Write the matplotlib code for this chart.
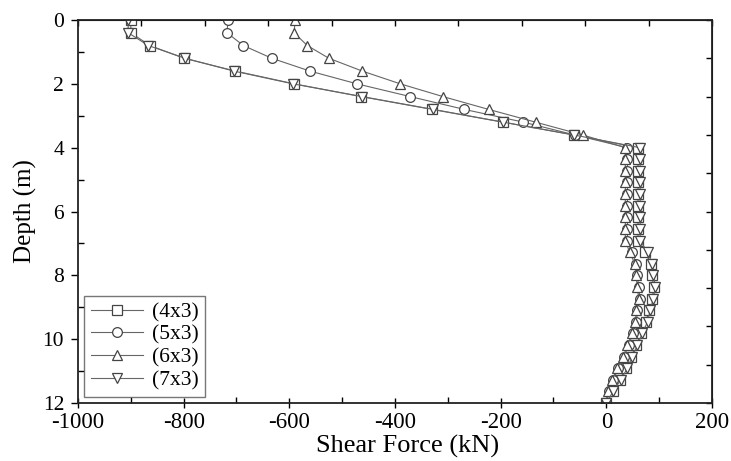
import numpy as np
import matplotlib
matplotlib.use("Agg")
import matplotlib.pyplot as plt
from matplotlib.ticker import MultipleLocator, NullFormatter

plt.rcParams["font.family"] = ["Liberation Serif", "DejaVu Serif"]
plt.rcParams["axes.unicode_minus"] = False

# depth of each output node (m): 0.4 m spacing above 4 m, 8/22 m below
depth = [0.0, 0.4, 0.8, 1.2, 1.6, 2.0, 2.4, 2.8, 3.2, 3.6, 4.0,
         4.364, 4.727, 5.091, 5.455, 5.818, 6.182, 6.545, 6.909,
         7.273, 7.636, 8.0, 8.364, 8.727, 9.091, 9.455, 9.818,
         10.182, 10.545, 10.909, 11.273, 11.636, 12.0]

# shear force (kN) for each pile group
shear_4x3 = [-900, -900, -864, -799, -702, -591, -464, -330, -196, -62, 60,
             60, 60, 60, 60, 60, 60, 60, 60,
             74, 84, 86, 90, 87, 81, 75, 66, 57, 47, 38, 25, 12, 0]
shear_5x3 = [-716, -718, -687, -633, -561, -472, -371, -269, -157, -60, 40,
             40, 40, 40, 40, 40, 40, 40, 40,
             48, 57, 58, 62, 63, 59, 57, 51, 42, 34, 23, 13, 5, -1]
shear_6x3 = [-589, -591, -566, -525, -462, -390, -309, -223, -134, -45, 36,
             36, 36, 36, 36, 36, 36, 36, 36,
             44, 54, 56, 59, 61, 57, 55, 49, 40, 32, 21, 11, 4, -2]
shear_7x3 = [-905, -905, -867, -797, -705, -593, -462, -328, -195, -62, 64,
             64, 64, 64, 64, 64, 64, 64, 64,
             78, 87, 89, 93, 89, 83, 78, 68, 59, 49, 40, 27, 13, 0]

series = [("(4x3)", shear_4x3, "s"), ("(5x3)", shear_5x3, "o"),
          ("(6x3)", shear_6x3, "^"), ("(7x3)", shear_7x3, "v")]

fig = plt.figure(figsize=(7.31, 4.61), dpi=100)
ax = fig.add_axes([0.1067, 0.1258, 0.8673, 0.8308])

for label, vals, mk in series:
    ax.plot(vals, depth, color="#666666", lw=0.8, marker=mk, markersize=7,
            markerfacecolor="white", markeredgecolor="#444444",
            markeredgewidth=0.9, label=label)

ax.set_xlim(-1000, 200)
ax.set_ylim(12, 0)
ax.xaxis.set_major_locator(MultipleLocator(200))
ax.xaxis.set_minor_locator(MultipleLocator(100))
ax.yaxis.set_major_locator(MultipleLocator(2))
ax.yaxis.set_minor_locator(MultipleLocator(1))
ax.tick_params(axis="x", which="major", direction="inout", length=7, width=1,
               labelsize=16.5, pad=3)
ax.tick_params(axis="x", which="minor", direction="in", length=4, width=1)
ax.tick_params(axis="y", which="major", direction="out", length=5, width=1,
               labelsize=15.5, pad=5)
ax.tick_params(axis="y", which="minor", direction="in", length=4, width=1)
for s in ax.spines.values():
    s.set_linewidth(1.3)
    s.set_color("#222222")

# Origin-style independent ticks on top and right
top = ax.secondary_xaxis("top")
top.set_xticks(np.arange(-1000, 201, 120))
top.xaxis.set_major_formatter(NullFormatter())
top.tick_params(direction="in", length=4, width=1)
right = ax.secondary_yaxis("right")
right.set_yticks(np.arange(0, 12.01, 1.2))
right.yaxis.set_major_formatter(NullFormatter())
right.tick_params(direction="in", length=4, width=1)

ax.set_xlabel("Shear Force (kN)", fontsize=19)
ax.xaxis.set_label_coords(0.52, -0.082)
ax.set_ylabel("Depth (m)", fontsize=18, labelpad=4)

leg = ax.legend(loc="lower left", fontsize=15.5, frameon=True, fancybox=False,
                edgecolor="#555555", handlelength=2.4, handletextpad=0.45,
                borderpad=0.3, labelspacing=0.12, borderaxespad=0.3)
leg.get_frame().set_linewidth(1.0)

fig.savefig("out.png", dpi=100)
